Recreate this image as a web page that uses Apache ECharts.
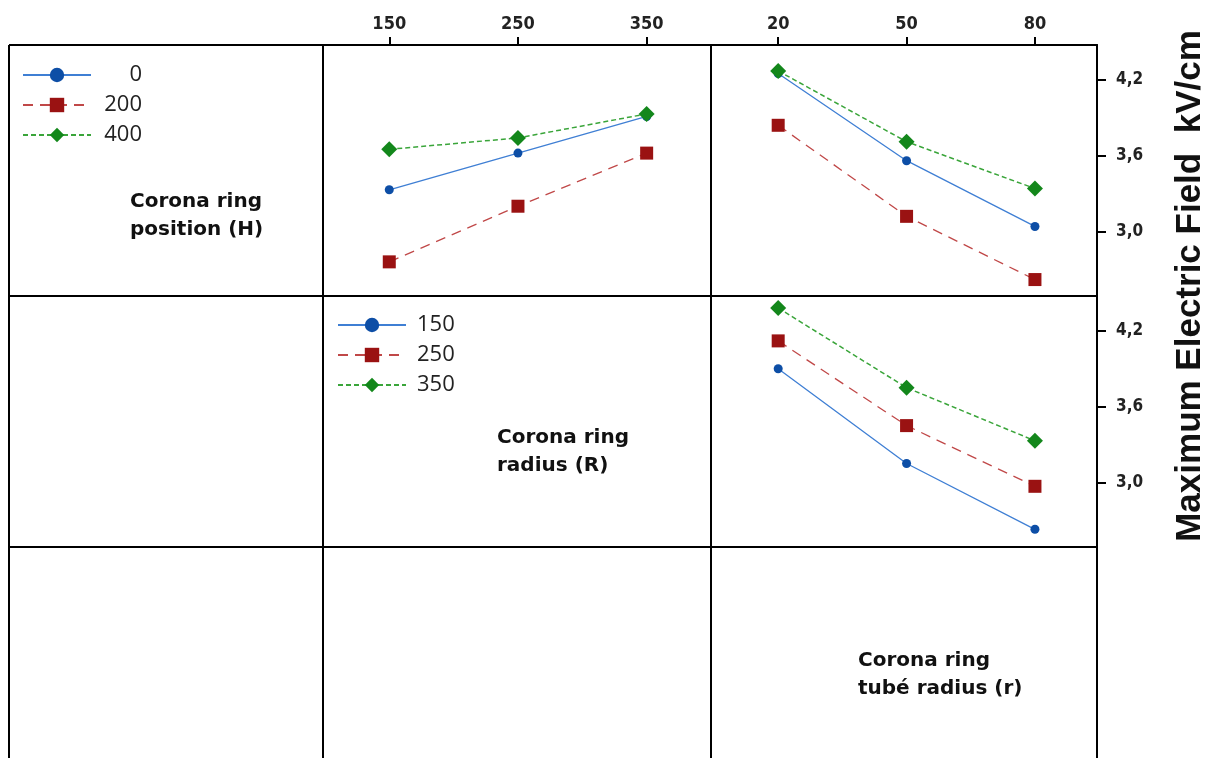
<!DOCTYPE html>
<html><head><meta charset="utf-8">
<script src="https://cdn.jsdelivr.net/npm/echarts@6/dist/echarts.min.js"></script>
<style>html,body{margin:0;padding:0;background:#fff}#c{width:1208px;height:758px}</style>
</head><body><div id="c"></div>
<script>
// ---- data ----
const H_LEVELS = ['0', '200', '400'];          // corona ring position (H)
const R_LEVELS = ['150', '250', '350'];        // corona ring radius (R)
const R_VALUES = [150, 250, 350];
const TUBE_VALUES = [20, 50, 80];              // corona ring tube radius (r)
const Y_TICKS = [3.0, 3.6, 4.2];
// mean max electric field (kV/cm), H level vs R
const H0_VS_R = [3.33, 3.62, 3.91];
const H200_VS_R = [2.76, 3.20, 3.62];
const H400_VS_R = [3.65, 3.74, 3.93];
// H level vs r
const H0_VS_T = [4.25, 3.56, 3.04];
const H200_VS_T = [3.84, 3.12, 2.62];
const H400_VS_T = [4.27, 3.71, 3.34];
// R level vs r
const R150_VS_T = [3.90, 3.15, 2.63];
const R250_VS_T = [4.12, 3.45, 2.97];
const R350_VS_T = [4.38, 3.75, 3.33];

// ---- styles ----
const LOOK = [
  { symbol: 'circle', size: 9, mark: '#0d4ea6', line: '#3f7fd4', type: 'solid', w: 1.3 },
  { symbol: 'rect', size: 13, mark: '#9a1212', line: '#c04848', type: [10, 7], w: 1.3 },
  { symbol: 'diamond', size: 16, mark: '#13871b', line: '#3aa53a', type: [5, 3], w: 1.5 }
];
const INK = '#000';
const AXFONT = '"DejaVu Sans Condensed", "DejaVu Sans", sans-serif';
const fmtY = v => Number(v).toFixed(1).replace('.', ',');
const Y_MIN = 2.49, Y_MAX = 4.475;

function mkSeries(name, xs, ys, k, gi) {
  const L = LOOK[k];
  return {
    type: 'line', name: name, xAxisIndex: gi, yAxisIndex: gi,
    data: xs.map((x, i) => [x, ys[i]]),
    symbol: L.symbol, symbolSize: L.size, showSymbol: true,
    itemStyle: { color: L.mark },
    lineStyle: { color: L.line, width: L.w, type: L.type },
    emphasis: { disabled: true }, animation: false, z: 3 + k
  };
}

const xTop = (gi, min, max, ticks) => ({
  gridIndex: gi, type: 'value', position: 'top', min: min, max: max,
  axisLine: { show: true, lineStyle: { color: INK, width: 2 } },
  axisTick: { show: true, length: 8, customValues: ticks, lineStyle: { color: INK, width: 2 } },
  axisLabel: { show: true, customValues: ticks, margin: 12, color: '#222',
    fontFamily: AXFONT, fontWeight: 'bold', fontSize: 18 },
  splitLine: { show: false }
});
const xHidden = (gi, min, max) => ({ gridIndex: gi, type: 'value', min: min, max: max, show: false, splitLine: { show: false } });
const yRight = (gi) => ({
  gridIndex: gi, type: 'value', position: 'right', min: Y_MIN, max: Y_MAX,
  axisLine: { show: true, lineStyle: { color: INK, width: 2 } },
  axisTick: { show: true, length: 9, customValues: Y_TICKS, lineStyle: { color: INK, width: 2 } },
  axisLabel: { show: true, customValues: Y_TICKS, margin: 19, formatter: fmtY, color: '#222',
    fontFamily: AXFONT, fontWeight: 'bold', fontSize: 17 },
  splitLine: { show: false }
});
const yHidden = (gi) => ({ gridIndex: gi, type: 'value', min: Y_MIN, max: Y_MAX, show: false, splitLine: { show: false } });

// frame
const X0 = 9, X1 = 323, X2 = 711, X3 = 1097, Y0 = 45, Y1 = 296, Y2 = 547, YB = 760;
const frameLines = [
  [X0, Y0, X3, Y0], [X0, Y1, X3, Y1], [X0, Y2, X3, Y2],
  [X0, Y0, X0, YB], [X1, Y0, X1, YB], [X2, Y0, X2, YB], [X3, Y0, X3, YB]
].map(s => ({ type: 'line', shape: { x1: s[0], y1: s[1], x2: s[2], y2: s[3] },
  style: { stroke: INK, lineWidth: 2 }, z: 10, silent: true }));

const cellText = (txt, x, y) => ({
  type: 'text', z: 10, silent: true,
  style: { text: txt, x: x, y: y, fill: '#111', font: 'bold 20px "DejaVu Sans", sans-serif',
    lineHeight: 28, align: 'left', verticalAlign: 'top' }
});

const legendBase = (data, left, top) => ({
  data: data, orient: 'vertical', left: left, top: top,
  itemWidth: 68, itemHeight: 18, itemGap: 0, selectedMode: false,
  textStyle: { fontFamily: '"Open Sans", sans-serif', fontSize: 22, color: '#222', lineHeight: 30 }
});
const legend1 = legendBase(H_LEVELS, 17, 55);
legend1.formatter = n => '{r|' + n + '}';
legend1.textStyle.padding = [0, 0, 0, 7];
legend1.textStyle.rich = { r: { width: 39, align: 'right', fontFamily: '"Open Sans", sans-serif', fontSize: 22, lineHeight: 30, color: '#222' } };
const legend2 = legendBase(R_LEVELS, 332, 305);
legend2.textStyle.padding = [0, 0, 0, 6];

const option = {
  backgroundColor: '#fff',
  animation: false,
  grid: [
    { left: X1, top: Y0, width: X2 - X1, height: Y1 - Y0 },
    { left: X2, top: Y0, width: X3 - X2, height: Y1 - Y0 },
    { left: X2, top: Y1, width: X3 - X2, height: Y2 - Y1 }
  ],
  xAxis: [ xTop(0, 98.5, 400, R_VALUES), xTop(1, 4.3, 94.5, TUBE_VALUES), xHidden(2, 4.3, 94.5) ],
  yAxis: [ yHidden(0), yRight(1), yRight(2) ],
  legend: [legend1, legend2],
  series: [
    mkSeries(H_LEVELS[0], R_VALUES, H0_VS_R, 0, 0),
    mkSeries(H_LEVELS[1], R_VALUES, H200_VS_R, 1, 0),
    mkSeries(H_LEVELS[2], R_VALUES, H400_VS_R, 2, 0),
    mkSeries(H_LEVELS[0], TUBE_VALUES, H0_VS_T, 0, 1),
    mkSeries(H_LEVELS[1], TUBE_VALUES, H200_VS_T, 1, 1),
    mkSeries(H_LEVELS[2], TUBE_VALUES, H400_VS_T, 2, 1),
    mkSeries(R_LEVELS[0], TUBE_VALUES, R150_VS_T, 0, 2),
    mkSeries(R_LEVELS[1], TUBE_VALUES, R250_VS_T, 1, 2),
    mkSeries(R_LEVELS[2], TUBE_VALUES, R350_VS_T, 2, 2)
  ],
  graphic: frameLines.concat([
    cellText('Corona ring\nposition (H)', 130, 188),
    cellText('Corona ring\nradius (R)', 497, 424),
    cellText('Corona ring\ntubé radius (r)', 858, 647),
    { type: 'text', z: 10, silent: true, x: 1190, y: 286, rotation: Math.PI / 2,
      style: { text: 'Maximum Electric Field  kV/cm', fill: '#111',
        font: 'bold 35px "Liberation Sans", Arial, sans-serif', align: 'center', verticalAlign: 'middle' } }
  ])
};
const chart = echarts.init(document.getElementById('c'), null, { renderer: 'canvas' });
chart.setOption(option);
</script></body></html>
